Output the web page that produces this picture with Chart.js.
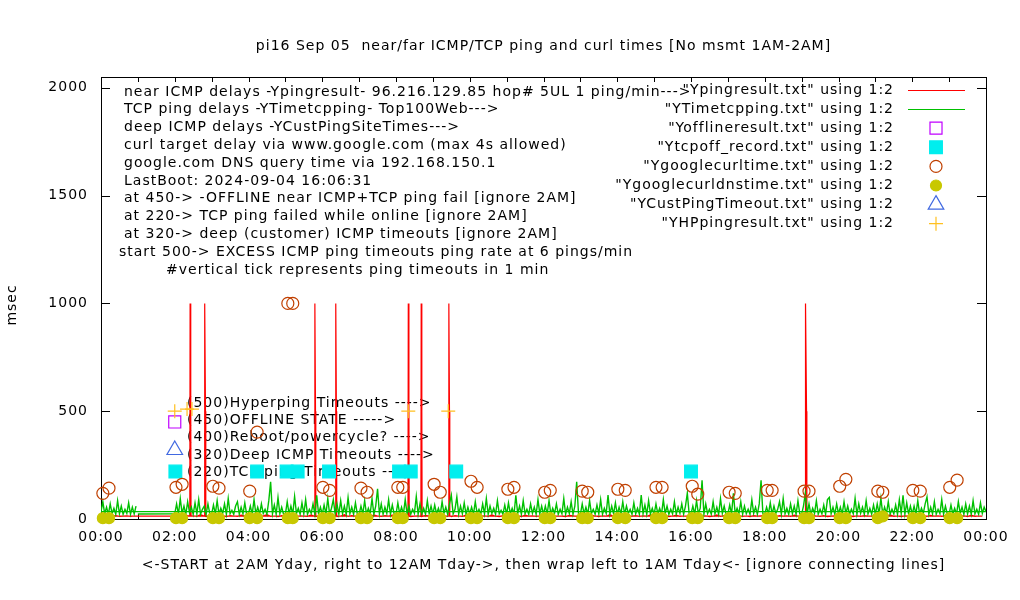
<!DOCTYPE html>
<html>
<head>
<meta charset="utf-8">
<script src="https://cdn.jsdelivr.net/npm/chart.js@4.4.1/dist/chart.umd.min.js"></script>
<style>
  html, body { margin: 0; padding: 0; background: #fff; }
  #wrap { width: 1020px; height: 600px; }
</style>
</head>
<body>
<div id="wrap"><canvas id="pingChart" width="1020" height="600"></canvas></div>
<script>
// x values are minutes after midnight, y values are msec

const chartTitle = 'pi16 Sep 05  near/far ICMP/TCP ping and curl times [No msmt 1AM-2AM]';
const xTitle = '<-START at 2AM Yday, right to 12AM Tday->, then wrap left to 1AM Tday<- [ignore connecting lines]';
const yTitle = 'msec';

const infoLines = [
    'near ICMP delays -Ypingresult- 96.216.129.85 hop# 5UL 1 ping/min--->',
    'TCP ping delays -YTimetcpping- Top100Web--->',
    'deep ICMP delays -YCustPingSiteTimes--->',
    'curl target delay via www.google.com (max 4s allowed)',
    'google.com DNS query time via 192.168.150.1',
    'LastBoot: 2024-09-04 16:06:31',
    'at 450-> -OFFLINE near ICMP+TCP ping fail [ignore 2AM]',
    'at 220-> TCP ping failed while online [ignore 2AM]',
    'at 320-> deep (customer) ICMP timeouts [ignore 2AM]',
    'start 500-> EXCESS ICMP ping timeouts ping rate at 6 pings/min',
    '#vertical tick represents ping timeouts in 1 min'
];

const keyLabels = [
    '(500)Hyperping Timeouts ---->',
    '(450)OFFLINE STATE ----->',
    '(400)Reboot/powercycle? ---->',
    '(320)Deep ICMP Timeouts ---->',
    '(220)TCP ping Timeouts ---->'
];

const legendNames = [
    '"Ypingresult.txt" using 1:2',
    '"YTimetcpping.txt" using 1:2',
    '"Yofflineresult.txt" using 1:2',
    '"Ytcpoff_record.txt" using 1:2',
    '"Ygooglecurltime.txt" using 1:2',
    '"Ygooglecurldnstime.txt" using 1:2',
    '"YCustPingTimeout.txt" using 1:2',
    '"YHPpingresult.txt" using 1:2'
];

const yTickValues = [0, 500, 1000, 1500, 2000];

// near ICMP ping, one value every 6 min from 02:00 to 23:54
const pingDay = [
    12,16,11,18,13,15,12,20,14,11, 15,12,19,13,11,16,14,12,18,13,
    11,17,13,12,15,20,12,14,11,16, 14,12,18,11,15,13,12,19,14,12,
    13,18,12,15,11,14,20,12,16,13, 12,15,13,11,19,14,12,16,13,18,
    16,12,14,20,11,13,15,12,17,14, 12,19,13,15,12,11,16,14,12,18,
    14,11,17,13,15,12,19,13,11,16, 13,16,12,14,11,18,13,15,12,14,
    11,15,19,12,14,13,11,17,15,12, 16,13,12,18,14,11,15,13,20,12,
    12,14,17,11,13,16,12,15,13,19, 15,12,13,16,11,14,18,12,14,13,
    13,17,12,14,15,11,13,19,12,16, 12,13,18,15,12,14,11,16,13,15,
    17,12,14,11,16,13,15,12,18,14, 13,15,12,17,14,12,16,11,13,15,
    12,18,14,13,11,15,12,16,14,13, 16,12,13,15,19,12,14,11,15,13,
    13,15,11,14,12,17,13,15,12,16, 14,12,16,13,15,11,18,12,14,13
];
// after the wrap: 00:00 to 00:54
const pingWrap = [13,15,12,14,16,12,13,15,12,14];
// ping timeout ticks [minute, msec]
const pingTimeouts = [
    [144.5,14],[145,1000],[146,500],[146.5,14],
    [168.5,13],[169,1000],[170,500],[170.5,13],
    [347.5,12],[348,1000],[349,500],[349.5,12],
    [381.5,14],[382,1000],[383,500],[383.5,14],
    [499.5,13],[500,1000],[501,500],[501.5,13],
    [520.5,12],[521,1000],[522,500],[522.5,12],
    [565.5,15],[566,1000],[567,500],[567.5,15],
    [1145.5,13],[1146,500],[1147,1000],[1148,500],[1148.5,13]
];

// TCP ping, first record then one value every 3 min from 02:00 to 23:57
const tcpFirst = [60, 23];
const tcpDay = [
    24,70,22,95,25,60,22,80,30,55,22,75,24,90,22,45,60,22,70,25,
    22,65,24,85,22,50,26,70,22,95,24,40,22,60,80,22,55,24,75,22,
    25,60,22,90,24,55,22,70,26,45,22,85,172,24,65,22,100,24,55,22,
    22,80,24,60,22,105,25,50,22,75,24,90,22,45,26,70,22,110,24,55,
    22,65,24,95,22,50,90,24,70,22,85,24,60,22,100,25,55,22,75,24,
    22,60,24,85,22,50,25,95,22,60,140,24,70,22,55,26,90,22,65,24,
    22,75,24,55,22,90,25,60,22,45,26,105,22,70,24,50,22,85,24,60,
    22,65,24,50,22,80,26,55,22,70,111,24,45,103,22,60,24,75,22,55,
    24,55,22,80,25,45,22,70,24,95,22,60,26,50,22,85,24,40,22,65,
    22,75,24,50,22,110,25,60,22,85,24,45,22,70,26,55,22,90,24,60,
    22,60,24,85,22,50,26,70,22,45,24,95,22,55,25,80,22,60,173,24,
    22,70,24,55,22,85,25,45,22,65,24,90,22,50,26,111,22,60,24,75,
    22,55,24,80,22,60,26,45,22,75,24,50,22,111,25,65,22,85,24,50,
    22,70,24,50,22,90,25,60,22,45,24,80,22,55,26,70,22,60,120,24,
    24,60,22,85,24,50,180,22,70,25,45,22,80,24,55,22,95,26,60,22,
    22,65,24,119,22,50,25,80,22,60,24,45,22,90,26,55,22,70,180,24,
    22,55,24,75,22,60,26,45,80,22,95,24,50,22,70,25,60,22,85,24,
    22,60,119,24,70,22,50,26,85,22,45,24,65,22,90,100,24,55,22,70,
    24,55,22,80,25,60,22,45,24,96,22,70,26,55,22,85,24,50,22,65,
    22,70,24,96,22,55,25,80,22,45,24,65,22,90,26,110,22,75,24,60,
    22,60,24,85,22,50,26,70,103,22,55,24,80,22,45,25,90,22,60,24,
    22,65,24,50,22,80,26,55,22,70,24,60,22,85,24,45,22,75,26,55
];
const tcpWrapJoin = 34;
const tcpWrap = [34,80,24,55,22,70,25,50,22,85,24,60,22,45,26,75,22,55,24,60];

// curl and dns, two tests per hour
const curlMin = [3,13,122,132,182,192,242,254,304,312,361,372,423,433,483,491,
    542,552,602,612,662,672,722,731,783,792,841,853,903,913,962,971,
    1022,1032,1084,1092,1144,1152,1202,1212,1264,1272,1321,1333,1381,1393];
const curlMs = [119,143,147,161,152,143,129,403,1000,1000,147,133,143,124,147,147,
    161,124,175,147,138,147,124,133,129,124,138,133,147,147,152,115,
    124,119,133,133,129,129,152,184,129,124,133,129,147,180];
const dnsMs = [4,4,4,4,4,4,4,4,4,4,4,4,4,4,4,4,
    4,4,4,4,4,4,4,4,4,4,4,4,4,4,4,4,
    4,4,4,4,4,4,4,4,4,12,4,4,4,4];

const offlineMin = [120];
const offlineMs = [450];
const tcpOffMin = [121,254,302,320,371,485,504,578,960];
const tcpOffMs = [220,220,220,220,220,220,220,220,220];
const custMin = [120];
const custMs = [320];
const hpMin = [120,140,148,500,565];
const hpMs = [500,510,510,500,500];

// build the point lists
const pingData = [];
pingDay.forEach((v, i) => pingData.push({x: 120 + i * 6, y: v}));
pingTimeouts.forEach(p => pingData.push({x: p[0], y: p[1]}));
pingData.sort((a, b) => a.x - b.x);
pingWrap.forEach((v, i) => pingData.push({x: i * 6, y: v}));

const tcpData = [{x: tcpFirst[0], y: tcpFirst[1]}];
tcpDay.forEach((v, i) => tcpData.push({x: 120 + i * 3, y: v}));
tcpData.push({x: 1440, y: tcpWrapJoin});
tcpWrap.forEach((v, i) => tcpData.push({x: i * 3, y: v}));

function pts(xs, ys) {
    return xs.map((x, i) => ({x: x, y: ys[i]}));
}

function hhmm(v) {
    const h = Math.floor(v / 60) % 24;
    return String(h).padStart(2, '0') + ':00';
}

const FONT = '14px "DejaVu Sans"';
Chart.defaults.font.family = 'DejaVu Sans';
Chart.defaults.font.size = 14;
Chart.defaults.color = '#000';

// gnuplot look: border, inward ticks, text block, key
const gnuplotLook = {
    id: 'gnuplotLook',
    beforeDraw(chart) {
        // gnuplot's png text runs wider than the canvas default
        chart.ctx.letterSpacing = '1px';
    },
    beforeDatasetsDraw(chart) {
        const ctx = chart.ctx;
        const a = chart.chartArea;
        const xs = chart.scales.x, ys = chart.scales.y;
        ctx.save();
        ctx.strokeStyle = '#000';
        ctx.lineWidth = 1;
        ctx.strokeRect(Math.round(a.left) + 0.5, Math.round(a.top) + 0.5,
            Math.round(a.right - a.left), Math.round(a.bottom - a.top));
        ctx.beginPath();
        for (let m = 0; m <= 1440; m += 60) {
            const px = Math.round(xs.getPixelForValue(m)) + 0.5;
            ctx.moveTo(px, a.bottom); ctx.lineTo(px, a.bottom - 5);
            ctx.moveTo(px, a.top); ctx.lineTo(px, a.top + 5);
        }
        yTickValues.forEach(v => {
            const py = Math.round(ys.getPixelForValue(v)) + 0.5;
            ctx.moveTo(a.left, py); ctx.lineTo(a.left + 9, py);
            ctx.moveTo(a.right, py); ctx.lineTo(a.right - 9, py);
        });
        ctx.stroke();

        ctx.font = FONT;
        ctx.letterSpacing = '1px';
        ctx.fillStyle = '#000';
        ctx.textBaseline = 'middle';
        ctx.textAlign = 'center';
        ctx.fillText(chartTitle, (a.left + a.right) / 2, 46);

        ctx.save();
        ctx.translate(12, 305);
        ctx.rotate(-Math.PI / 2);
        ctx.fillText(yTitle, 0, 0);
        ctx.restore();

        ctx.textAlign = 'left';
        const lx = [124, 124, 124, 124, 124, 124, 124, 124, 124, 119, 166];
        infoLines.forEach((t, i) => ctx.fillText(t, lx[i], 92 + i * 17.8));
        keyLabels.forEach((t, i) => ctx.fillText(t, 187, 403 + i * 17.3));

        ctx.textAlign = 'right';
        legendNames.forEach((t, i) => ctx.fillText(t, 894, 90 + i * 19.1));
        chart.data.datasets.forEach((ds, i) => {
            const y = 90 + i * 19.1;
            if (ds.showLine !== false) {
                ctx.strokeStyle = ds.borderColor;
                ctx.lineWidth = 1;
                ctx.beginPath();
                ctx.moveTo(908, Math.round(y) + 0.5);
                ctx.lineTo(965, Math.round(y) + 0.5);
                ctx.stroke();
            } else {
                ctx.strokeStyle = ds.pointBorderColor;
                ctx.fillStyle = ds.pointBackgroundColor;
                ctx.lineWidth = ds.pointBorderWidth;
                Chart.helpers.drawPoint(ctx, {
                    pointStyle: ds.pointStyle, radius: ds.pointRadius,
                    rotation: 0, borderWidth: ds.pointBorderWidth
                }, 936, y);
                ctx.lineWidth = 1;
            }
        });
        ctx.restore();
    }
};

function markers(label, data, style, radius, border, fill, order) {
    return {
        label: label, data: data, showLine: false, clip: false, order: order,
        pointStyle: style, pointRadius: radius, pointHoverRadius: radius,
        pointBorderColor: border, pointBackgroundColor: fill, pointBorderWidth: 1.2,
        borderColor: border, backgroundColor: fill
    };
}

new Chart(document.getElementById('pingChart'), {
    type: 'line',
    data: {
        datasets: [
            { label: 'ping', data: pingData, borderColor: '#ff0000', borderWidth: 1.2,
              pointRadius: 0, tension: 0, order: 8 },
            { label: 'tcp', data: tcpData, borderColor: '#00c000', borderWidth: 1.4,
              pointRadius: 0, tension: 0, order: 7 },
            markers('offline', pts(offlineMin, offlineMs), 'rect', 8.5, '#c000ff', 'rgba(0,0,0,0)', 6),
            markers('tcpoff', pts(tcpOffMin, tcpOffMs), 'rect', 9, '#00eeee', '#00eeee', 5),
            markers('curl', pts(curlMin, curlMs), 'circle', 6, '#c04000', 'rgba(0,0,0,0)', 4),
            markers('dns', pts(curlMin, dnsMs), 'circle', 5.5, '#c8c800', '#c8c800', 3),
            markers('cust', pts(custMin, custMs), 'triangle', 9, '#4169e1', 'rgba(0,0,0,0)', 2),
            markers('hp', pts(hpMin, hpMs), 'cross', 7, '#ffc020', '#ffc020', 1)
        ]
    },
    options: {
        responsive: false,
        devicePixelRatio: 1,
        animation: false,
        layout: { padding: { top: 77, right: 34, bottom: 0, left: 0 } },
        plugins: { legend: { display: false }, tooltip: { enabled: false }, title: { display: false } },
        scales: {
            x: {
                type: 'linear', min: 0, max: 1440,
                grid: { display: false, drawTicks: false },
                border: { display: false },
                ticks: { stepSize: 60, autoSkip: false, maxRotation: 0, padding: 10,
                         callback: v => v % 120 === 0 ? hhmm(v) : '' },
                title: { display: true, text: xTitle, padding: { top: 0, bottom: 26 } },
                afterFit: s => { s.height = 81; }
            },
            y: {
                min: 0, max: 2050,
                grid: { display: false, drawTicks: false },
                border: { display: false },
                afterBuildTicks: s => { s.ticks = yTickValues.map(v => ({value: v})); },
                ticks: { padding: 13, autoSkip: false, callback: v => String(v) },
                afterFit: s => { s.width = 101; }
            }
        }
    },
    plugins: [gnuplotLook]
});
</script>
</body>
</html>
